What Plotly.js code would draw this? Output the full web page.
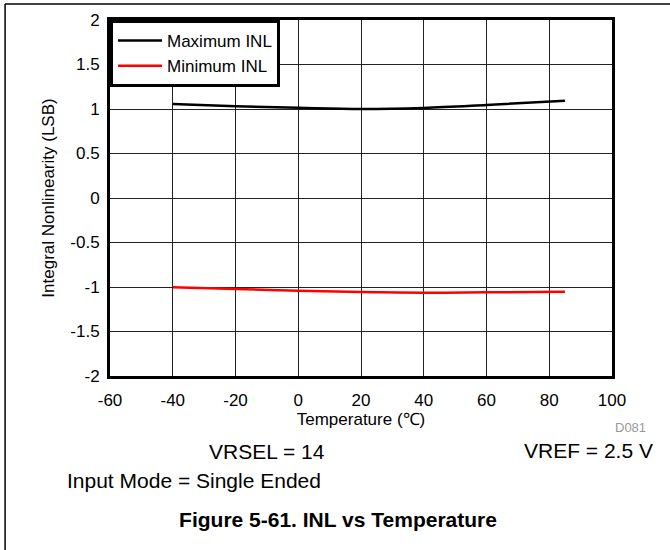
<!DOCTYPE html>
<html>
<head>
<meta charset="utf-8">
<script src="https://cdn.plot.ly/plotly-3.0.1.min.js"></script>
<style>
  html, body { margin: 0; padding: 0; background: #fff; }
  #chart { width: 670px; height: 550px; }
</style>
</head>
<body>
<div id="chart"></div>
<script>
// Data
const temperature = [-40, -20, 0, 20, 40, 60, 85];
const maxINL = [1.056, 1.03, 1.013, 1.0, 1.012, 1.045, 1.092];
const minINL = [-1.004, -1.022, -1.041, -1.056, -1.064, -1.06, -1.052];
const seriesNames = ['Maximum INL', 'Minimum INL'];
const xTicks = [-60, -40, -20, 0, 20, 40, 60, 80, 100];
const yTicks = [-2, -1.5, -1, -0.5, 0, 0.5, 1, 1.5, 2];

const FONT = 'Liberation Sans, Arial, Helvetica, sans-serif';

const traces = [
  { x: temperature, y: maxINL, name: seriesNames[0], mode: 'lines',
    line: { color: '#000000', width: 2.5, shape: 'spline', smoothing: 1 } },
  { x: temperature, y: minINL, name: seriesNames[1], mode: 'lines',
    line: { color: '#ff0000', width: 2.5, shape: 'spline', smoothing: 1 } }
];

const layout = {
  width: 670, height: 550,
  margin: { l: 110, r: 58, t: 20, b: 174 },
  paper_bgcolor: '#ffffff', plot_bgcolor: '#ffffff',
  font: { family: FONT, color: '#000', size: 17 },
  showlegend: true,
  legend: {
    x: 0, y: 1, xanchor: 'left', yanchor: 'top',
    bgcolor: '#ffffff', bordercolor: '#000000', borderwidth: 3,
    font: { family: FONT, size: 17, color: '#000' },
    tracegroupgap: 0, itemwidth: 44, entrywidth: 166
  },
  xaxis: {
    range: [-60, 100], tickvals: xTicks, ticktext: xTicks.map(String),
    showgrid: true, gridcolor: '#222', gridwidth: 1,
    zeroline: false, showline: true, linecolor: '#000', linewidth: 3, mirror: true,
    ticks: '', ticklabelstandoff: 7,
    tickfont: { family: FONT, size: 17, color: '#000' },
    title: { text: 'Temperature (℃)', font: { family: FONT, size: 17, color: '#000' }, standoff: 1 },
    fixedrange: true
  },
  yaxis: {
    range: [-2, 2], tickvals: yTicks, ticktext: yTicks.map(String),
    showgrid: true, gridcolor: '#222', gridwidth: 1,
    zeroline: false, showline: true, linecolor: '#000', linewidth: 3, mirror: true,
    ticks: '', ticklabelstandoff: 4,
    tickfont: { family: FONT, size: 17, color: '#000' },
    title: { text: 'Integral Nonlinearity (LSB)', font: { family: FONT, size: 17, color: '#000' }, standoff: 12 },
    fixedrange: true
  },
  title: {
    text: '<b>Figure 5-61. INL vs Temperature</b>',
    font: { family: FONT, size: 21, color: '#000' },
    xref: 'container', yref: 'container', x: 338 / 670, y: 1 - 520 / 550,
    xanchor: 'center', yanchor: 'middle'
  },
  annotations: [
    { text: 'D081', xref: 'paper', yref: 'paper', x: 1.072, y: -0.146,
      xanchor: 'right', yanchor: 'middle', showarrow: false,
      font: { family: FONT, size: 13, color: '#999999' } },
    { text: 'VRSEL = 14', xref: 'paper', yref: 'paper', x: 0.3118, y: -0.2107,
      xanchor: 'center', yanchor: 'middle', showarrow: false,
      font: { family: FONT, size: 21, color: '#000' } },
    { text: 'VREF = 2.5 V', xref: 'paper', yref: 'paper', x: 1.086, y: -0.2079,
      xanchor: 'right', yanchor: 'middle', showarrow: false,
      font: { family: FONT, size: 21, color: '#000' } },
    { text: 'Input Mode = Single Ended', xref: 'paper', yref: 'paper', x: -0.089, y: -0.2949,
      xanchor: 'left', yanchor: 'middle', showarrow: false,
      font: { family: FONT, size: 21, color: '#000' } }
  ],
  shapes: [
    { type: 'line', xref: 'paper', yref: 'paper', x0: -0.209, x1: 1.2, y0: 1.045, y1: 1.045,
      line: { color: '#000', width: 1.5 } },
    { type: 'line', xref: 'paper', yref: 'paper', x0: -0.209, x1: -0.209, y0: 1.045, y1: -0.6,
      line: { color: '#000', width: 1.5 } }
  ]
};

Plotly.newPlot('chart', traces, layout, { displayModeBar: false, staticPlot: true });
</script>
</body>
</html>
